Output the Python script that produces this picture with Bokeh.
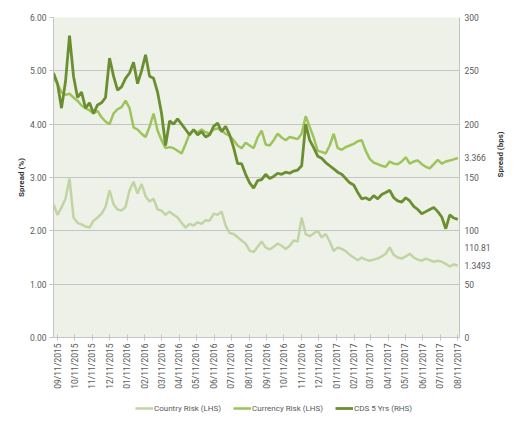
import math
import pandas as pd
from bokeh.plotting import figure
from bokeh.layouts import column
from bokeh.models import (LinearAxis, Range1d, FixedTicker, DatetimeTickFormatter,
                          Legend, LegendItem, NumeralTickFormatter, ColumnDataSource)
from bokeh.embed import file_html
from bokeh.resources import INLINE

# ---------------- data (weekly observations) ----------------
start_date = "2015-09-04"
n_weeks = 102
dates = pd.date_range(start_date, periods=n_weeks, freq="7D")

country_risk = [
    2.50, 2.30, 2.44, 2.60, 2.98, 2.25, 2.15, 2.12, 2.08, 2.06,
    2.19, 2.25, 2.32, 2.45, 2.76, 2.50, 2.40, 2.38, 2.45, 2.76,
    2.92, 2.70, 2.88, 2.65, 2.55, 2.60, 2.40, 2.38, 2.30, 2.36,
    2.30, 2.25, 2.15, 2.06, 2.13, 2.10, 2.16, 2.13, 2.20, 2.19,
    2.32, 2.30, 2.36, 2.10, 1.96, 1.94, 1.88, 1.82, 1.76, 1.63,
    1.60, 1.70, 1.80, 1.69, 1.65, 1.70, 1.76, 1.72, 1.66, 1.72,
    1.82, 1.80, 2.25, 1.94, 1.90, 1.95, 2.00, 1.88, 1.94, 1.80,
    1.62, 1.69, 1.66, 1.62, 1.55, 1.50, 1.45, 1.50, 1.46, 1.44,
    1.46, 1.48, 1.52, 1.57, 1.69, 1.55, 1.50, 1.48, 1.52, 1.57,
    1.50, 1.46, 1.44, 1.48, 1.45, 1.42, 1.44, 1.42, 1.38, 1.33,
    1.37, 1.3493]

currency_risk = [
    4.88, 4.75, 4.60, 4.55, 4.57, 4.50, 4.44, 4.35, 4.30, 4.26,
    4.20, 4.25, 4.13, 4.05, 4.00, 4.20, 4.28, 4.32, 4.44, 4.30,
    3.94, 3.90, 3.82, 3.76, 3.95, 4.20, 3.88, 3.70, 3.55, 3.57,
    3.55, 3.50, 3.45, 3.63, 3.82, 3.88, 3.85, 3.90, 3.85, 3.82,
    3.90, 3.92, 3.88, 3.82, 3.78, 3.70, 3.60, 3.55, 3.65, 3.60,
    3.55, 3.75, 3.88, 3.62, 3.60, 3.70, 3.82, 3.75, 3.70, 3.76,
    3.74, 3.72, 3.82, 4.15, 3.95, 3.75, 3.50, 3.48, 3.45, 3.60,
    3.82, 3.55, 3.52, 3.57, 3.60, 3.63, 3.68, 3.70, 3.50, 3.35,
    3.28, 3.25, 3.22, 3.20, 3.30, 3.26, 3.25, 3.30, 3.38, 3.26,
    3.30, 3.32, 3.25, 3.20, 3.17, 3.25, 3.33, 3.26, 3.30, 3.32,
    3.34, 3.366]

cds_5y = [
    248, 238, 215, 240, 283, 245, 225, 230, 215, 220,
    210, 218, 220, 225, 262, 245, 232, 235, 243, 248,
    258, 238, 250, 265, 245, 243, 230, 210, 180, 203,
    200, 205, 200, 195, 190, 195, 190, 193, 188, 190,
    198, 201, 193, 198, 190, 178, 163, 163, 153, 145,
    140, 147, 148, 153, 149, 151, 154, 153, 155, 154,
    156, 157, 161, 200, 185, 178, 170, 168, 164, 161,
    158, 155, 153, 149, 145, 143, 136, 130, 131, 129,
    133, 130, 134, 136, 138, 131, 128, 127, 131, 128,
    123, 120, 116, 118, 120, 122, 118, 113, 102, 115,
    112, 110.81]

series_names = ["Country Risk (LHS)", "Currency Risk (LHS)", "CDS 5 Yrs (RHS)"]
last_labels = ["1.3493", "3.366", "110.81"]
left_ticks = [0, 1, 2, 3, 4, 5, 6]
right_ticks = [0, 50, 100, 150, 200, 250, 300]
tick_dates = pd.date_range("2015-09-11", periods=24, freq=pd.DateOffset(months=1))

# ---------------- styling ----------------
FONT = "Roboto"
C_COUNTRY = "#c2d4a4"
C_CURRENCY = "#9dc35a"
C_CDS = "#6b8f30"
GRID = "#c4c4c4"
TXT = "#595959"

LHS_MAX, RHS_MAX = 6, 300
ratio = RHS_MAX / LHS_MAX          # bps per % on the two axes
px_per_bps = 320 / RHS_MAX          # frame height / range

src = ColumnDataSource(dict(date=dates, country=country_risk,
                            currency=currency_risk, cds=cds_5y))

p = figure(width=512, height=397, x_axis_type="datetime",
           x_range=Range1d(pd.Timestamp("2015-09-04"), pd.Timestamp("2017-08-14")),
           y_range=Range1d(0, LHS_MAX),
           output_backend="svg", toolbar_location=None,
           min_border_left=53, min_border_right=49, min_border_top=17, min_border_bottom=60,
           background_fill_color="#eef1e7", border_fill_color="white")
p.outline_line_color = None
p.extra_y_ranges = {"bps": Range1d(0, RHS_MAX)}

p.xgrid.grid_line_color = None
p.ygrid.grid_line_color = GRID
p.ygrid.ticker = FixedTicker(ticks=left_ticks)

# left axis
ly = p.yaxis[0]
ly.ticker = FixedTicker(ticks=left_ticks)
ly.formatter = NumeralTickFormatter(format="0.00")
ly.axis_label = "Spread (%)"

# right axis: scale ticks plus the end-of-series value labels
end_pos = {
    last_labels[1]: currency_risk[-1] * ratio,
    last_labels[2]: cds_5y[-1] - 28 / px_per_bps,
    last_labels[0]: country_risk[-1] * ratio,
}
overrides = {float(v): k for k, v in end_pos.items()}
overrides.update({float(t): str(t) for t in right_ticks})
ry = LinearAxis(y_range_name="bps",
                ticker=FixedTicker(ticks=right_ticks + list(end_pos.values())),
                major_label_overrides=overrides,
                axis_label="Spread (bps)")
p.add_layout(ry, "right")

for ax in (ly, ry):
    ax.axis_line_color = GRID
    ax.major_tick_line_color = GRID
    ax.major_tick_out = 4
    ax.major_tick_in = 0
    ax.minor_tick_line_color = None
    ax.major_label_text_font = FONT
    ax.major_label_text_font_size = "8.5px"
    ax.major_label_text_color = TXT
    ax.axis_label_text_font = FONT
    ax.axis_label_text_font_size = "8px"
    ax.axis_label_text_font_style = "bold"
    ax.axis_label_text_color = "#333333"
ry.major_tick_out = 0
ly.major_label_standoff = 3
ry.major_label_standoff = 5
ly.axis_label_standoff = 1
ry.axis_label_standoff = 7
ry.axis_label_orientation = math.pi / 2

# x axis
xa = p.xaxis[0]
xa.ticker = FixedTicker(ticks=[t.timestamp() * 1000 for t in tick_dates])
fmt = "%m/%d/%Y"
xa.formatter = DatetimeTickFormatter(years=fmt, months=fmt, days=fmt, hours=fmt,
                                     hourmin=fmt, minutes=fmt, minsec=fmt, seconds=fmt,
                                     milliseconds=fmt, microseconds=fmt)
xa.major_label_orientation = math.pi / 2
xa.axis_line_color = GRID
xa.major_tick_line_color = GRID
xa.major_tick_in = 3
xa.major_tick_out = 3
xa.minor_tick_line_color = None
xa.major_label_text_font = FONT
xa.major_label_text_font_size = "8.5px"
xa.major_label_text_color = TXT
xa.major_label_standoff = 3

p.line("date", "country", source=src, color=C_COUNTRY, line_width=2.5)
p.line("date", "currency", source=src, color=C_CURRENCY, line_width=2.5)
p.line("date", "cds", source=src, color=C_CDS, line_width=2.8, y_range_name="bps")

# ---------------- legend strip (same series, ranges chosen so lines stay off-frame) ----------------
lg = figure(width=512, height=20, x_range=Range1d(0, 1), y_range=Range1d(0, 1),
            output_backend="svg", toolbar_location=None,
            x_axis_location=None, y_axis_location=None,
            min_border_left=0, min_border_right=0, min_border_top=0, min_border_bottom=0,
            background_fill_color="white", border_fill_color="white")
lg.outline_line_color = None
lg.grid.visible = False
items = []
for name, colname, col, w in zip(series_names, ["country", "currency", "cds"],
                                 [C_COUNTRY, C_CURRENCY, C_CDS], [2.5, 2.5, 2.8]):
    r = lg.line("date", colname, source=src, color=col, line_width=w)
    items.append(LegendItem(label=name, renderers=[r]))
legend = Legend(items=items, orientation="horizontal", location=(82, 3),
                background_fill_alpha=0, border_line_color=None,
                padding=0, margin=0, spacing=12,
                glyph_width=18, glyph_height=12, label_height=12,
                label_standoff=1, label_text_font=FONT, label_text_font_size="8px",
                label_text_color=TXT)
lg.add_layout(legend)

page = column(p, lg, spacing=0)
open("out.html", "w").write(file_html(page, INLINE))
